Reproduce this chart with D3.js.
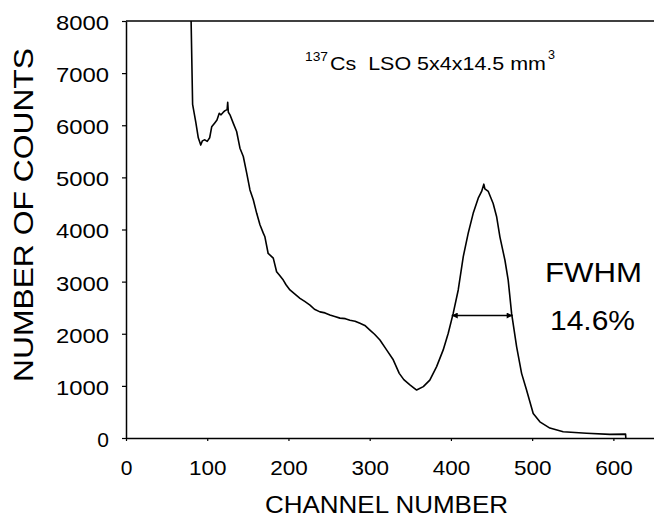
<!DOCTYPE html>
<html>
<head>
<meta charset="utf-8">
<script src="https://cdn.jsdelivr.net/npm/d3@7"></script>
<style>
	body { margin: 0; background: #fff; }
	text { font-family: "Liberation Sans", Arial, sans-serif; fill: #000; }
</style>
</head>
<body>
<script>

// spectrum (channel, counts)
const channel = [79, 82, 86, 89, 92, 94, 97, 100, 103, 105.5, 109.5, 112, 114.8, 117, 119.8, 122, 124.5, 125.2, 126, 128,
	132, 136.2, 140.3, 144.4, 148.6, 152.6, 156.7, 160.9, 164.9, 169, 171, 175, 178, 181.3, 185.4, 189, 193.6, 197, 201.8, 208,
	214.2, 220, 226.5, 232, 238.8, 245, 251, 257, 263.4, 270, 275.7, 282, 288, 294, 300.3, 306, 312.6, 320.8, 329, 336.4,
	342, 349.5, 357.8, 366, 374, 382.4, 390.5, 396.7, 402.8, 409, 415.2, 421.3, 427.4, 433.6, 437.8, 440.5, 441.8, 446, 452, 456.2,
	460.3, 466.5, 470.5, 474.7, 480.9, 487, 493.1, 501.3, 509.5, 521.8, 538.2, 567, 595.7, 615, 615.3]
const counts = [9000, 6400, 6050, 5760, 5620, 5700, 5720, 5690, 5760, 5970, 6050, 6100, 6230, 6200, 6250, 6280, 6300, 6440, 6250, 6200,
	6040, 5880, 5560, 5400, 5080, 4760, 4570, 4310, 4090, 3930, 3860, 3540, 3500, 3450, 3190, 3120, 3030, 2940, 2840, 2760,
	2680, 2620, 2550, 2470, 2420, 2400, 2360, 2330, 2300, 2290, 2260, 2240, 2200, 2160, 2070, 1990, 1880, 1690, 1500, 1240,
	1120, 1020, 920, 985, 1110, 1370, 1690, 2010, 2390, 2840, 3480, 3930, 4310, 4600, 4730, 4870, 4780, 4730, 4500, 4250,
	3860, 3410, 3030, 2390, 1750, 1240, 920, 470, 310, 190, 120, 90, 70, 75, 0]

const xTicks = [0, 100, 200, 300, 400, 500, 600]
const yTicks = [0, 1000, 2000, 3000, 4000, 5000, 6000, 7000, 8000]

// FWHM marker: from channel, to channel, at counts
const fwhm = [401, 476, 2350]

const width = 654, height = 517
const margin = {top: 21, right: 0, bottom: 79, left: 126}

const svg = d3.select('body')
	.append('svg')
	.attr('width', width)
	.attr('height', height)

const x = d3.scaleLinear().domain([0, 650]).range([margin.left, width - margin.right])
const y = d3.scaleLinear().domain([0, 8000]).range([height - margin.bottom, margin.top])

svg.append('defs').append('clipPath').attr('id', 'plot')
	.append('rect')
	.attr('x', margin.left).attr('y', margin.top)
	.attr('width', width - margin.left - margin.right)
	.attr('height', height - margin.top - margin.bottom)

svg.select('defs').append('marker')
	.attr('id', 'head')
	.attr('viewBox', '0 0 10 10')
	.attr('refX', 10).attr('refY', 5)
	.attr('markerWidth', 9).attr('markerHeight', 6)
	.attr('markerUnits', 'userSpaceOnUse')
	.attr('orient', 'auto-start-reverse')
	.append('path').attr('d', 'M0,0L10,5L0,10z').style('fill', '#000')

//Axes
let yAxis = svg.append('g')
	.attr('transform', 'translate(' + margin.left + ',0)')
	.call(d3.axisLeft(y).tickValues(yTicks).tickFormat(d3.format('d')).tickSize(4).tickSizeOuter(0).tickPadding(13))
yAxis.selectAll('text')
	.style('font-size', '21px')
	.attr('dy', '0.40em')
	.each(function(d) {
		let n = String(d).length
		if(n > 1) d3.select(this).attr('textLength', n * 13.25).attr('lengthAdjust', 'spacingAndGlyphs')
	})

let xAxis = svg.append('g')
	.attr('transform', 'translate(0,' + y(0) + ')')
	.call(d3.axisBottom(x).tickValues(xTicks).tickFormat(d3.format('d')).tickSize(3).tickSizeOuter(0))
xAxis.selectAll('text')
	.style('font-size', '21px')
	.attr('y', 37).attr('dy', 0)
	.each(function(d) {
		let n = String(d).length
		if(n > 1) d3.select(this).attr('textLength', n * 12.5).attr('lengthAdjust', 'spacingAndGlyphs')
	})

svg.selectAll('.domain').attr('stroke-width', 1.5)
svg.selectAll('.tick line').attr('stroke-width', 1.2)

//top border
svg.append('line')
	.attr('x1', x(0)).attr('x2', x(650))
	.attr('y1', y(8000)).attr('y2', y(8000))
	.attr('stroke', '#000').attr('stroke-width', 1.5)

//Spectrum
const line = d3.line().x((d, i) => x(channel[i])).y(d => y(d))
svg.append('path')
	.datum(counts)
	.attr('clip-path', 'url(#plot)')
	.attr('fill', 'none')
	.attr('stroke', '#000')
	.attr('stroke-width', 1.6)
	.attr('stroke-linejoin', 'round')
	.attr('d', line)

//FWHM arrow
svg.append('line')
	.attr('x1', x(fwhm[0])).attr('x2', x(fwhm[1]))
	.attr('y1', y(fwhm[2])).attr('y2', y(fwhm[2]))
	.attr('stroke', '#000').attr('stroke-width', 1.3)
	.attr('marker-start', 'url(#head)')
	.attr('marker-end', 'url(#head)')

//Labels
svg.append('text')
	.attr('transform', 'translate(33,215) rotate(-90)')
	.attr('text-anchor', 'middle')
	.attr('textLength', 334).attr('lengthAdjust', 'spacingAndGlyphs')
	.style('font-size', '28px')
	.text('NUMBER OF COUNTS')

svg.append('text')
	.attr('x', 386.5).attr('y', 513)
	.attr('text-anchor', 'middle')
	.attr('textLength', 243).attr('lengthAdjust', 'spacingAndGlyphs')
	.style('font-size', '24px')
	.text('CHANNEL NUMBER')

svg.append('text')
	.attr('x', 593.5).attr('y', 282)
	.attr('text-anchor', 'middle')
	.attr('textLength', 97).attr('lengthAdjust', 'spacingAndGlyphs')
	.style('font-size', '28px')
	.text('FWHM')

svg.append('text')
	.attr('x', 592.5).attr('y', 330)
	.attr('text-anchor', 'middle')
	.attr('textLength', 85).attr('lengthAdjust', 'spacingAndGlyphs')
	.style('font-size', '28px')
	.text('14.6%')

//source / crystal note
const note = [
	{t: '137', x: 305, y: 60.5, s: 13.5, w: 23},
	{t: 'Cs\u00a0\u00a0LSO 5x4x14.5 mm', x: 330, y: 70, s: 18, w: 216},
	{t: '3', x: 548, y: 59, s: 13.5, w: 7}
]
svg.selectAll('.note')
	.data(note)
	.enter().append('text')
	.attr('class', 'note')
	.attr('x', d => d.x).attr('y', d => d.y)
	.attr('textLength', d => d.w).attr('lengthAdjust', 'spacingAndGlyphs')
	.style('font-size', d => d.s + 'px')
	.text(d => d.t)

</script>
</body>
</html>
